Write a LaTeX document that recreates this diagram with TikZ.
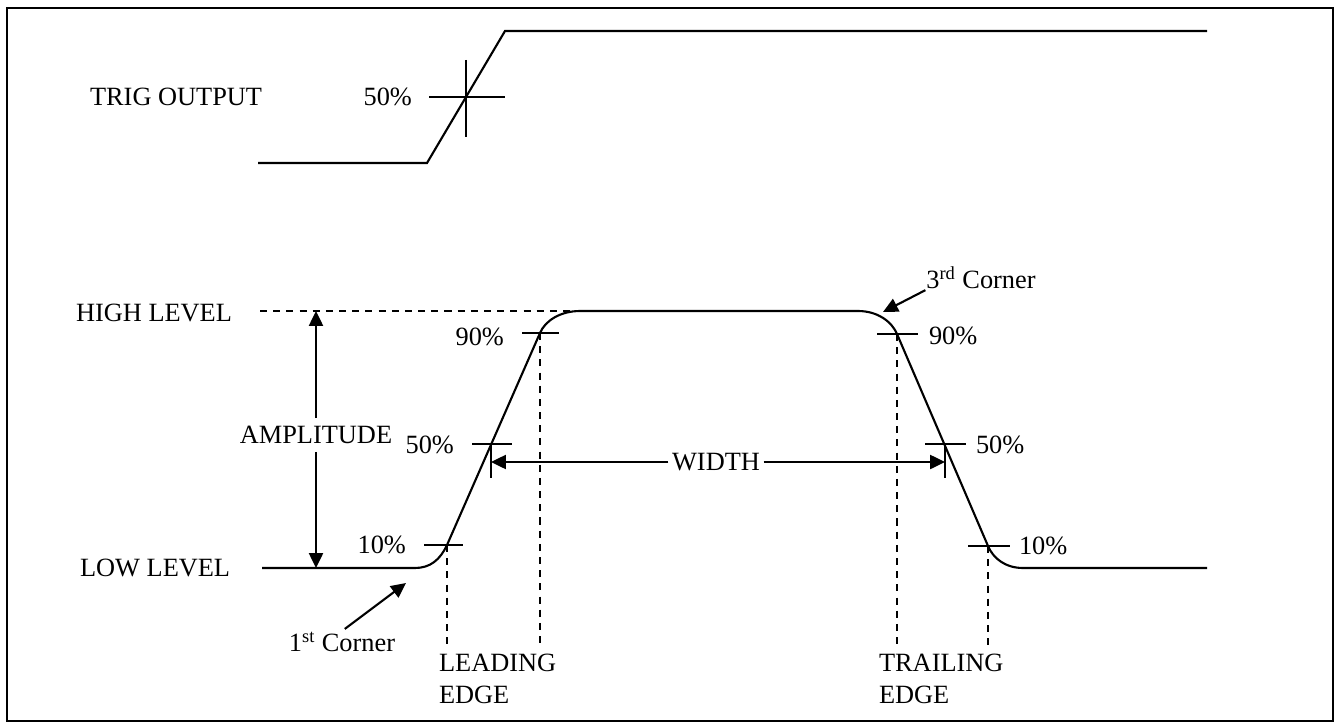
\documentclass[tikz,border=0pt]{standalone}
\usepackage{fontspec}
\setmainfont{Liberation Serif}
\usetikzlibrary{arrows.meta}

\begin{document}
\begin{tikzpicture}[x=0.02cm,y=-0.02cm,line width=1.2pt,
  lbl/.style={inner sep=0pt,font=\fontsize{15}{18}\selectfont},
  arr/.style={-{Triangle[length=8.5pt,width=8pt]}},
  guide/.style={dash pattern=on 4pt off 3.5pt}]
  \useasboundingbox (0,0) rectangle (1335,723);
  \draw (7,8) rectangle (1333,721);

  % trigger output
  \coordinate (t0) at (258,163);
  \coordinate (t1) at (427,163);
  \coordinate (t2) at (505,31);
  \coordinate (t3) at (1207,31);
  \coordinate (tm) at (466,97);
  \draw (t0) -- (t1) -- (t2) -- (t3);
  \draw (tm) ++(-37,0) -- ++(76,0);
  \draw (tm) ++(0,-37) -- ++(0,77);
  \node[lbl,anchor=west] (trig) at (89,97) {TRIG OUTPUT};
  \node[lbl,anchor=east] (t50) at (413,97) {50\%};

  % pulse
  \coordinate (l0) at (262,568);
  \coordinate (l1) at (415,568);
  \coordinate (p10l) at (447,545);
  \coordinate (p50l) at (491,444);
  \coordinate (p90l) at (540,333);
  \coordinate (h0) at (580,311);
  \coordinate (h1) at (858,311);
  \coordinate (p90r) at (897,334);
  \coordinate (p50r) at (945,444);
  \coordinate (p10r) at (988,546);
  \coordinate (r0) at (1023,568);
  \coordinate (r1) at (1207,568);
  \draw (l0) -- (l1) .. controls (430,568) and (440,560) .. (p10l)
    -- (p90l) .. controls (545,321) and (560,311) .. (h0)
    -- (h1) .. controls (878,311) and (892,322) .. (p90r)
    -- (p10r) .. controls (993,558) and (1005,568) .. (r0) -- (r1);

  \draw (p10l) ++(-23,0) -- ++(39,0);
  \draw (p50l) ++(-19,0) -- ++(40,0);
  \draw (p50l) -- ++(0,34);
  \draw (p90l) ++(-18,0) -- ++(37,0);
  \draw (p90r) ++(-20,0) -- ++(41,0);
  \draw (p50r) ++(-20,0) -- ++(41,0);
  \draw (p50r) -- ++(0,34);
  \draw (p10r) ++(-20,0) -- ++(42,0);

  \coordinate (base) at (0,645);
  \coordinate (hd) at (260,311);
  \draw[guide] (hd) -- (h0);
  \foreach \p in {p10l,p90l,p90r,p10r}
    \draw[guide] (\p) -- (\p |- base);

  \node[lbl,anchor=west] (high) at (75,313) {HIGH LEVEL};
  \node[lbl,anchor=west] (low) at (79,568) {LOW LEVEL};
  \node[lbl,inner sep=4pt] (amp) at (316,435) {AMPLITUDE};
  \draw[arr] (amp.north) -- (amp.north |- hd);
  \draw[arr] (amp.south) -- (amp.south |- l0);

  \node[lbl,inner sep=1.5pt] (wd) at (716,462) {WIDTH};
  \draw[arr] (wd.west) -- (p50l |- wd);
  \draw[arr] (wd.east) -- (p50r |- wd);

  \node[lbl,anchor=east] (l10) at (407,545) {10\%};
  \node[lbl,anchor=east] (l50) at (455,445) {50\%};
  \node[lbl,anchor=east] (l90) at (505,337) {90\%};
  \node[lbl,anchor=west] (r90) at (928,336) {90\%};
  \node[lbl,anchor=west] (r50) at (975,445) {50\%};
  \node[lbl,anchor=west] (r10) at (1018,546) {10\%};

  \node[lbl] (c1) at (342,642) {1\textsuperscript{st} Corner};
  \coordinate (corner1) at (406,583);
  \draw[arr,shorten <=2pt] (c1.north) -- (corner1);
  \node[lbl] (c3) at (981,278) {3\textsuperscript{rd} Corner};
  \coordinate (corner3) at (883,312);
  \draw[arr] (c3.south west) -- (corner3);

  \node[lbl,anchor=north west,align=left] (lead) at (438,653) {LEADING\\EDGE};
  \node[lbl,anchor=north west,align=left] (trail) at (878,653) {TRAILING\\EDGE};
\end{tikzpicture}
\end{document}
